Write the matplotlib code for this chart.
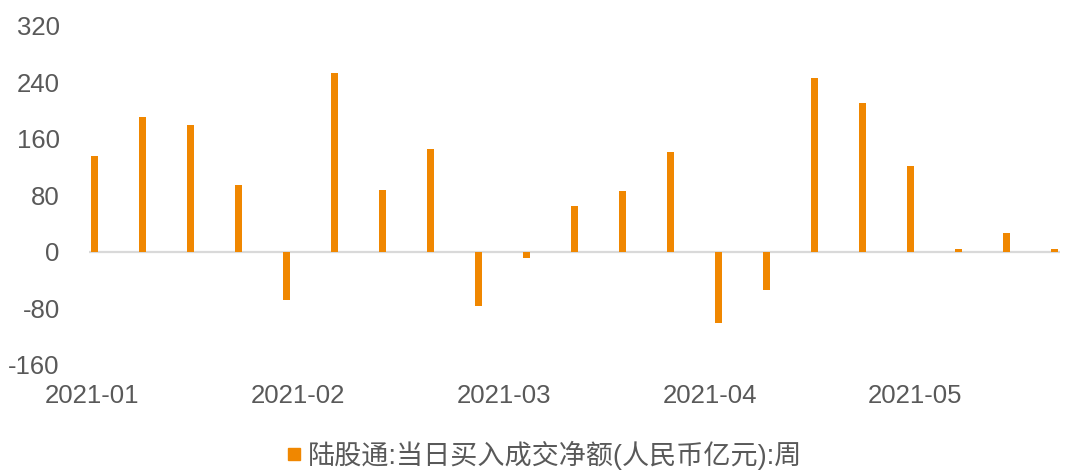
import numpy as np
import pandas as pd
import matplotlib
matplotlib.use("Agg")
import matplotlib.pyplot as plt
import matplotlib.dates as mdates
from matplotlib.lines import Line2D

plt.rcParams['font.family'] = ['Liberation Sans', 'Noto Sans CJK SC', 'DejaVu Sans']

# weekly net buy (100m RMB)
dates = pd.date_range('2021-01-08', periods=21, freq='7D')
values = [136, 191, 180, 95, -68, 253, 88, 146, -76, -8, 65,
          86, 141, -100, -54, 246, 210, 122, 4, 27, 4]
label = '陆股通:当日买入成交净额(人民币亿元):周'
yticks = [-160, -80, 0, 80, 160, 240, 320]

orange = '#F08700'
grey = '#595959'

fig = plt.figure(figsize=(10.68, 4.74), dpi=100)
ax = fig.add_axes([0.0833, 0.23, 0.9092, 0.716])

x = mdates.date2num(dates)
ax.bar(x + 0.3, values, width=1.0, align='edge', color=orange, zorder=3)
ax.axhline(0, color='#d9d9d9', lw=1.6, zorder=2)

ax.set_xlim(x[0], x[-1] + 1.6)
ax.set_ylim(-160, 320)
ax.set_yticks(yticks)
ax.set_yticklabels([str(v) for v in yticks])

tick_dates = [dates[0] + pd.Timedelta(days=30 * k) for k in range(5)]
ax.set_xticks(mdates.date2num(tick_dates) + 0.5)
ax.set_xticklabels([d.strftime('%Y-%m') for d in tick_dates])

for s in ax.spines.values():
    s.set_visible(False)
ax.tick_params(axis='both', length=0, colors=grey, labelsize=18.5)
ax.tick_params(axis='y', pad=21)
ax.tick_params(axis='x', pad=14)

h = Line2D([], [], marker='s', color=orange, ls='none', markersize=9)
fig.legend([h], [label], loc='center', bbox_to_anchor=(0.508, 0.04),
           frameon=False, fontsize=19.5, labelcolor=grey,
           handletextpad=0.1, handlelength=0.8)

fig.savefig('out.png', dpi=100)
